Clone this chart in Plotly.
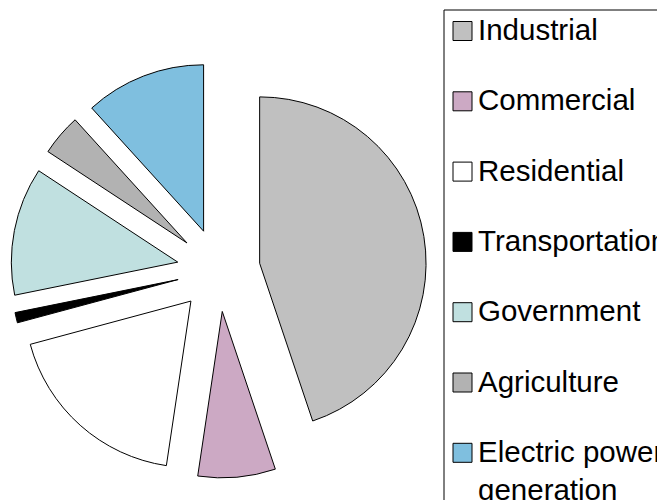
import plotly.graph_objects as go

labels = ["Industrial", "Commercial", "Residential", "Transportation",
          "Government", "Agriculture", "Electric power generation"]
values = [44.7, 7.5, 18.4, 1.0, 12.4, 4.0, 11.7]
colors = ["#C0C0C0", "#CCA9C4", "#FFFFFF", "#000000",
          "#C0E0E0", "#B2B2B2", "#7FBFDF"]

W, H = 665, 500
OFF = 8  # page body margin shifts the figure
FONT = "Liberation Sans, Arial, sans-serif"


def px(x):
    return (x - OFF) / W


def py(y):
    return 1 - (y - OFF) / H


fig = go.Figure()
fig.add_trace(go.Pie(
    labels=labels,
    values=values,
    sort=False,
    direction="clockwise",
    rotation=0,
    pull=0.25,
    marker=dict(colors=colors, line=dict(color="black", width=1)),
    textinfo="none",
    hoverinfo="label+percent",
    showlegend=False,
    domain=dict(x=[px(10.6), px(426.6)], y=[py(478), py(62)]),
))

# legend drawn by hand (plotly's pie legend can't do the big swatches / spacing)
shapes = [dict(type="rect", xref="paper", yref="paper",
               x0=px(444), x1=px(700), y0=py(10), y1=py(530),
               line=dict(color="black", width=1), fillcolor="white", layer="below")]
annotations = []
for i, (lab, col) in enumerate(zip(labels, colors)):
    yc = 31 + 70.3 * i
    shapes.append(dict(type="rect", xref="paper", yref="paper",
                       x0=px(453), x1=px(472), y0=py(yc - 9.5), y1=py(yc + 9.5),
                       fillcolor=col, line=dict(color="black", width=1)))
    annotations.append(dict(
        xref="paper", yref="paper", x=px(476), y=py(yc - 20),
        xanchor="left", yanchor="top", showarrow=False, align="left",
        text=lab.replace("power ", "power<br>"),
        font=dict(family=FONT, size=29.5, color="black"),
    ))

fig.update_layout(
    width=W, height=H,
    margin=dict(l=0, r=0, t=0, b=0),
    paper_bgcolor="white",
    plot_bgcolor="white",
    shapes=shapes,
    annotations=annotations,
    font=dict(family=FONT),
)

fig.write_html("out.html")
